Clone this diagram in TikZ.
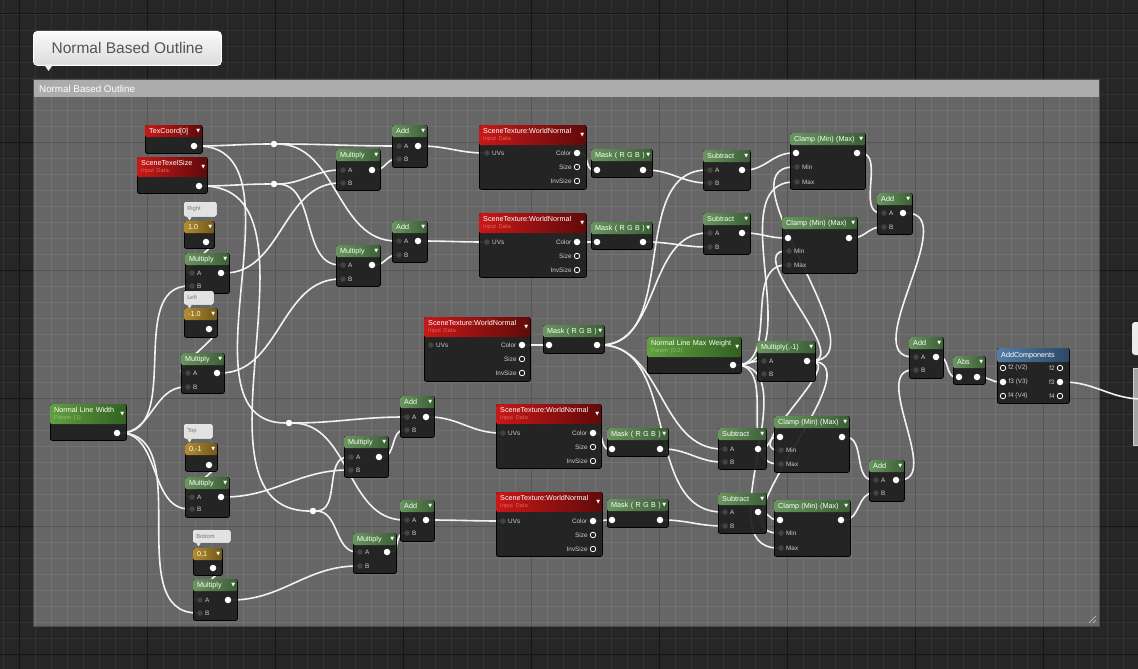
\documentclass[tikz,border=0pt]{standalone}
\usepackage{fontspec}
\setmainfont{Liberation Sans}
\newfontfamily\symfont{DejaVu Sans}
\usetikzlibrary{positioning}
\pgfdeclarelayer{back}
\pgfdeclarelayer{wires}
\pgfsetlayers{back,wires,main}

\definecolor{bgdark}{RGB}{38,38,38}
\definecolor{bgline}{RGB}{50,50,50}
\definecolor{bgmajor}{RGB}{22,22,22}
\definecolor{boxfill}{RGB}{102,102,102}
\definecolor{boxline}{RGB}{114,114,114}
\definecolor{boxmajor}{RGB}{86,86,86}
\definecolor{boxhead}{RGB}{172,172,172}
\definecolor{nodebody}{RGB}{30,32,30}
\definecolor{hgreenA}{RGB}{104,150,94}
\definecolor{hgreenB}{RGB}{60,94,54}
\definecolor{hparamA}{RGB}{98,160,64}
\definecolor{hparamB}{RGB}{50,96,34}
\definecolor{hredA}{RGB}{200,24,24}
\definecolor{hredB}{RGB}{96,10,10}
\definecolor{hgoldA}{RGB}{178,140,46}
\definecolor{hgoldB}{RGB}{112,86,26}
\definecolor{hblueA}{RGB}{84,124,164}
\definecolor{hblueB}{RGB}{44,72,104}
\definecolor{pinoff}{RGB}{66,68,66}
\definecolor{pintext}{RGB}{205,205,205}
\definecolor{subred}{RGB}{232,96,86}
\definecolor{subgreen}{RGB}{140,196,104}
\definecolor{wirecol}{RGB}{242,242,242}
\definecolor{notefill}{RGB}{226,226,226}
\definecolor{notetext}{RGB}{120,120,120}
\definecolor{titletext}{RGB}{84,84,84}

\tikzstyle{body} = [rectangle, anchor=north west, inner sep=0pt, fill=nodebody, fill opacity=0.93, draw=black, line width=0.8pt, rounded corners=2pt]
\tikzstyle{hdr} = [rectangle, anchor=north west, inner xsep=4pt, inner ysep=0pt, minimum height=12pt, text=white, font=\fontsize{7.2}{7.8}\selectfont, align=left, rounded corners=2pt]
\tikzstyle{hgreen} = [hdr, left color=hgreenA, right color=hgreenB]
\tikzstyle{hparam} = [hdr, minimum height=20pt, left color=hparamA, right color=hparamB]
\tikzstyle{hred} = [hdr, left color=hredA, right color=hredB]
\tikzstyle{hreds} = [hred, minimum height=20pt]
\tikzstyle{hgold} = [hdr, left color=hgoldA, right color=hgoldB]
\tikzstyle{hblue} = [hdr, minimum height=14pt, left color=hblueA, right color=hblueB]
\tikzstyle{drop} = [inner sep=0pt, text=white, font=\symfont\fontsize{5}{5}\selectfont]
\tikzstyle{ipin} = [circle, inner sep=0pt, minimum size=5.5pt, fill=pinoff]
\tikzstyle{opin} = [circle, inner sep=0pt, minimum size=6.5pt, fill=white]
\tikzstyle{hpin} = [circle, inner sep=0pt, minimum size=5.5pt, draw=white, line width=0.8pt, fill=nodebody]
\tikzstyle{plabel} = [inner sep=0pt, text=pintext, font=\fontsize{6.4}{6.4}\selectfont]
\tikzstyle{reroute} = [circle, inner sep=0pt, minimum size=6.5pt, fill=white]
\tikzstyle{wire} = [draw=wirecol, line width=1.6pt, out=0, in=180]
\tikzstyle{note} = [rectangle, anchor=north west, inner xsep=3pt, inner ysep=0pt, rounded corners=1.5pt, fill=notefill, draw=white, line width=0.5pt, text=notetext, font=\fontsize{5.8}{6}\selectfont, align=left]
\tikzstyle{bubble} = [rectangle, anchor=north west, rounded corners=4pt, top color=white!96!gray, bottom color=gray!28, draw=white, line width=0.8pt, text=titletext, font=\fontsize{15.5}{16}\selectfont, inner sep=0pt]

% material node: name, x1, y1, x2, y2, header style, title
\newcommand\unode[7]{%
  \pgfmathsetmacro\uw{#4-#2}\pgfmathsetmacro\uh{#5-#3}\pgfmathsetmacro\tw{#4-#2-8}%
  \node[body, minimum width=\uw pt, minimum height=\uh pt] (#1) at (#2,#3) {};
  \node[#6, text width=\tw pt] (#1-h) at (#2,#3) {#7};
  \node[drop, left=2pt of #1-h.east] {▼};}
\newcommand\subt[2]{\\[-1pt]{\color{#1}\fontsize{5.8}{6}\selectfont #2}}
\newcommand\cnote[6]{%
  \pgfmathsetmacro\nw{#4-#2-6}\pgfmathsetmacro\nh{#5-#3}%
  \node[note, text width=\nw pt, minimum height=\nh pt] (#1) at (#2,#3) {#6};
  \fill[notefill] ([xshift=3pt]#1.south west) -- ++(5,0) -- ++(-2.5,4) -- cycle;}
% pins
\newcommand\inp[4]{\node[ipin] (#1) at (#2,#3) {}; \node[plabel, right=2pt of #1] {#4};}
\newcommand\outp[3]{\node[opin] (#1) at (#2,#3) {};}
\newcommand\hol[4]{\node[hpin] (#1) at (#2,#3) {}; \node[plabel, left=2pt of #1] {#4};}
\newcommand\holr[4]{\node[hpin] (#1) at (#2,#3) {}; \node[plabel, right=2pt of #1] {#4};}
\newcommand\sttex[5]{% SceneTexture pins: name, uv x, color x, y
  \inp{#1-uv}{#2}{#4}{UVs}
  \outp{#1-c}{#3}{#4} \node[plabel, left=2pt of #1-c] {Color};
  \hol{#1-s}{#3}{#4+14}{Size}
  \hol{#1-v}{#3}{#4+28}{InvSize}}
\newcommand\abpins[5]{% name, in x, out x, A y, B y
  \inp{#1-a}{#2}{#4}{A} \inp{#1-b}{#2}{#5}{B} \outp{#1-o}{#3}{#4}}
\newcommand\clpins[6]{% name, in x, out x, in y, min y, max y
  \outp{#1-i}{#2}{#4} \outp{#1-o}{#3}{#4}
  \inp{#1-mn}{#2+1}{#5}{Min} \inp{#1-mx}{#2+1}{#6}{Max}}

\begin{document}
\begin{tikzpicture}[x=1pt, y=-1pt]
\useasboundingbox (0,0) rectangle (1138,669);

% Background and comment box
\begin{pgfonlayer}{back}
\fill[bgdark] (0,0) rectangle (1138,669);
\foreach \x in {3,19,...,1138} \draw[bgline, line width=0.5pt] (\x,0) -- (\x,669);
\foreach \y in {14,30,...,669} \draw[bgline, line width=0.5pt] (0,\y) -- (1138,\y);
\foreach \x in {19,147,...,1138} \draw[bgmajor, line width=1pt] (\x,0) -- (\x,669);
\foreach \y in {14,142,...,669} \draw[bgmajor, line width=1pt] (0,\y) -- (1138,\y);
\fill[boxfill] (33,97) rectangle (1099,626);
\begin{scope}
\clip (33,97) rectangle (1099,626);
\foreach \x in {35,51,...,1099} \draw[boxline, line width=0.5pt] (\x,97) -- (\x,626);
\foreach \y in {110,126,...,626} \draw[boxline, line width=0.5pt] (33,\y) -- (1099,\y);
\foreach \x in {147,275,...,1099} \draw[boxmajor, line width=1pt] (\x,97) -- (\x,626);
\foreach \y in {142,270,...,626} \draw[boxmajor, line width=1pt] (33,\y) -- (1099,\y);
\end{scope}
\fill[boxhead] (33,79) rectangle (1099,97);
\draw[black!70, line width=0.6pt] (33,79) rectangle (1099,626);
\draw[white!80!black, line width=0.6pt] (1089,623) -- (1096,616) (1093,623) -- (1096,620);
\fill[white!92!black, rounded corners=3pt] (1132,322) rectangle (1150,355);
\fill[gray!70, draw=gray!40] (1133,368) rectangle (1150,445);
\end{pgfonlayer}

\node[anchor=west, inner sep=0pt, text=white, font=\fontsize{9.8}{10}\selectfont] (boxtitle) at (39,88.5) {Normal Based Outline};
\node[bubble, minimum width=188pt, minimum height=34pt] (title) at (33,31) {Normal Based Outline};
\fill[white!85!gray] (44,64.5) -- (53,64.5) -- (48.5,71) -- cycle;

% Nodes
\unode{tc}{145}{125}{202}{153}{hred}{TexCoord[0]}
\outp{tc-o}{194}{146}
\unode{ts}{137}{157}{207}{193}{hreds}{SceneTexelSize\subt{subred}{Input Data}}
\outp{ts-o}{199}{186}

\cnote{nright}{184}{202}{216}{216}{Right}
\unode{c1}{184}{221}{214}{248}{hgold}{1.0}
\outp{c1-o}{206}{242}
\unode{mr}{185}{253}{229}{293}{hgreen}{Multiply}
\abpins{mr}{192}{221}{273}{286}

\cnote{nleft}{184}{291}{213}{304}{Left}
\unode{c2}{184}{308}{217}{337}{hgold}{-1.0}
\outp{c2-o}{209}{329}
\unode{mlf}{181}{353}{224}{393}{hgreen}{Multiply}
\abpins{mlf}{188}{217}{373}{387}

\unode{nlw}{50}{404}{126}{440}{hparam}{Normal Line Width\subt{subgreen}{Param (1)}}
\outp{nlw-o}{117}{433}

\cnote{ntop}{184}{424}{212}{438}{Top}
\unode{c3}{185}{443}{217}{471}{hgold}{0,-1}
\outp{c3-o}{209}{465}
\unode{mtp}{185}{477}{229}{517}{hgreen}{Multiply}
\abpins{mtp}{192}{221}{497}{509}

\cnote{nbottom}{193}{530}{230}{542}{Bottom}
\unode{c4}{193}{548}{222}{575}{hgold}{0,1}
\outp{c4-o}{213}{568}
\unode{mbt}{193}{579}{237}{620}{hgreen}{Multiply}
\abpins{mbt}{200}{228}{600}{613}

\node[reroute] (r1) at (274,144) {};
\node[reroute] (r2) at (274,184) {};
\node[reroute] (r3) at (289,423) {};
\node[reroute] (r4) at (313,511) {};

\unode{mt1}{336}{149}{380}{190}{hgreen}{Multiply}
\abpins{mt1}{343}{372}{170}{183}
\unode{mt2}{336}{245}{380}{286}{hgreen}{Multiply}
\abpins{mt2}{343}{372}{265}{279}
\unode{ad1}{392}{125}{427}{167}{hgreen}{Add}
\abpins{ad1}{399}{418}{146}{159}
\unode{ad2}{392}{221}{427}{262}{hgreen}{Add}
\abpins{ad2}{399}{418}{241}{255}
\unode{mm}{344}{436}{388}{477}{hgreen}{Multiply}
\abpins{mm}{351}{379}{457}{470}
\unode{ad3}{400}{396}{434}{437}{hgreen}{Add}
\abpins{ad3}{407}{426}{417}{430}
\unode{ml}{353}{533}{396}{573}{hgreen}{Multiply}
\abpins{ml}{360}{387}{552}{566}
\unode{ad4}{400}{500}{434}{541}{hgreen}{Add}
\abpins{ad4}{407}{426}{520}{533}

\unode{st1}{479}{125}{586}{189}{hreds}{SceneTexture:WorldNormal\subt{subred}{Input Data}}
\sttex{st1}{487}{577}{153}{}
\unode{st2}{479}{213}{586}{277}{hreds}{SceneTexture:WorldNormal\subt{subred}{Input Data}}
\sttex{st2}{487}{577}{242}{}
\unode{st3}{424}{317}{530}{381}{hreds}{SceneTexture:WorldNormal\subt{subred}{Input Data}}
\sttex{st3}{431}{522}{345}{}
\unode{st4}{496}{404}{601}{468}{hreds}{SceneTexture:WorldNormal\subt{subred}{Input Data}}
\sttex{st4}{503}{593}{433}{}
\unode{st5}{496}{492}{602}{556}{hreds}{SceneTexture:WorldNormal\subt{subred}{Input Data}}
\sttex{st5}{503}{593}{521}{}

\unode{mk1}{591}{149}{652}{177}{hgreen}{Mask ( R G B )}
\outp{mk1-i}{597}{170} \outp{mk1-o}{643}{170}
\unode{mk2}{591}{222}{652}{249}{hgreen}{Mask ( R G B )}
\outp{mk2-i}{597}{242} \outp{mk2-o}{643}{242}
\unode{mk3}{543}{325}{604}{353}{hgreen}{Mask ( R G B )}
\outp{mk3-i}{549}{345} \outp{mk3-o}{597}{345}
\unode{mk4}{607}{428}{668}{456}{hgreen}{Mask ( R G B )}
\outp{mk4-i}{612}{449} \outp{mk4-o}{660}{449}
\unode{mk5}{607}{499}{668}{527}{hgreen}{Mask ( R G B )}
\outp{mk5-i}{612}{520} \outp{mk5-o}{660}{520}

\unode{sb1}{703}{150}{750}{190}{hgreen}{Subtract}
\abpins{sb1}{710}{742}{170}{183}
\unode{sb2}{703}{213}{750}{254}{hgreen}{Subtract}
\abpins{sb2}{710}{742}{233}{247}
\unode{sb3}{718}{428}{766}{469}{hgreen}{Subtract}
\abpins{sb3}{725}{758}{449}{462}
\unode{sb4}{718}{493}{766}{533}{hgreen}{Subtract}
\abpins{sb4}{725}{758}{512}{526}

\unode{nlmw}{647}{337}{741}{373}{hparam}{Normal Line Max Weight\subt{subgreen}{Param (0.2)}}
\outp{nlmw-o}{733}{365}
\unode{neg}{757}{341}{815}{381}{hgreen}{Multiply(,-1)}
\abpins{neg}{764}{807}{361}{374}

\unode{cl1}{790}{133}{865}{189}{hgreen}{Clamp (Min) (Max)}
\clpins{cl1}{796}{857}{153}{167}{182}
\unode{cl2}{782}{217}{857}{273}{hgreen}{Clamp (Min) (Max)}
\clpins{cl2}{788}{849}{238}{251}{265}
\unode{cl3}{774}{416}{849}{472}{hgreen}{Clamp (Min) (Max)}
\clpins{cl3}{780}{842}{437}{450}{464}
\unode{cl4}{774}{500}{850}{556}{hgreen}{Clamp (Min) (Max)}
\clpins{cl4}{780}{841}{520}{533}{548}

\unode{ar1}{877}{193}{912}{234}{hgreen}{Add}
\abpins{ar1}{884}{903}{213}{227}
\unode{ar2}{869}{460}{904}{501}{hgreen}{Add}
\abpins{ar2}{876}{896}{480}{493}
\unode{af}{909}{337}{943}{378}{hgreen}{Add}
\abpins{af}{916}{936}{357}{370}
\unode{abs}{953}{356}{985}{384}{hgreen}{Abs}
\outp{abs-i}{959}{377} \outp{abs-o}{977}{377}

\node[body, minimum width=72pt, minimum height=55pt] (acp) at (997,348) {};
\node[hblue, text width=64pt] (acp-h) at (997,348) {AddComponents};
\holr{acp-f2}{1003}{368}{f2 (V2)}
\outp{acp-f3}{1003}{382} \node[plabel, right=2pt of acp-f3] {f3 (V3)};
\holr{acp-f4}{1003}{396}{f4 (V4)}
\hol{acp-f2o}{1060}{368}{f2}
\outp{acp-f3o}{1060}{382} \node[plabel, left=2pt of acp-f3o] {f3};
\hol{acp-f4o}{1060}{396}{f4}
\coordinate (exit) at (1142,399);

% Wires
\begin{pgfonlayer}{wires}
\draw[wire] (tc-o) to (r1);
\draw[wire] (tc-o) to (r3);
\draw[wire] (r1) to (ad1-a);
\draw[wire] (r1) to (ad2-a);
\draw[wire] (ts-o) to (r2);
\draw[wire] (ts-o) to (r4);
\draw[wire] (r2) to (mt1-a);
\draw[wire] (r2) to (mt2-a);
\draw[wire] (r3) to (ad3-a);
\draw[wire] (r3) to (ad4-a);
\draw[wire] (r4) to (mm-a);
\draw[wire] (r4) to (ml-a);

\draw[wire] (c1-o) to (mr-a);
\draw[wire] (c2-o) to (mlf-a);
\draw[wire] (c3-o) to (mtp-a);
\draw[wire] (c4-o) to (mbt-a);
\foreach \m in {mr,mlf,mtp,mbt} \draw[wire] (nlw-o) to (\m-b);

\draw[wire] (mr-o) to (mt1-b);
\draw[wire] (mlf-o) to (mt2-b);
\draw[wire] (mtp-o) to (mm-b);
\draw[wire] (mbt-o) to (ml-b);
\draw[wire] (mt1-o) to (ad1-b);
\draw[wire] (mt2-o) to (ad2-b);
\draw[wire] (mm-o) to (ad3-b);
\draw[wire] (ml-o) to (ad4-b);

\draw[wire] (ad1-o) to (st1-uv);
\draw[wire] (ad2-o) to (st2-uv);
\draw[wire] (ad3-o) to (st4-uv);
\draw[wire] (ad4-o) to (st5-uv);
\foreach \i in {1,...,5} \draw[wire] (st\i-c) to (mk\i-i);

\foreach \i in {1,...,4} \draw[wire] (mk3-o) to (sb\i-a);
\draw[wire] (mk1-o) to (sb1-b);
\draw[wire] (mk2-o) to (sb2-b);
\draw[wire] (mk4-o) to (sb3-b);
\draw[wire] (mk5-o) to (sb4-b);
\foreach \i in {1,...,4} \draw[wire] (sb\i-o) to (cl\i-i);

\draw[wire] (nlmw-o) to (neg-a);
\foreach \i in {1,...,4} {
  \draw[wire] (nlmw-o) to (cl\i-mx);
  \draw[wire] (neg-o) to (cl\i-mn);
}
\draw[wire] (cl1-o) to (ar1-a);
\draw[wire] (cl2-o) to (ar1-b);
\draw[wire] (cl3-o) to (ar2-a);
\draw[wire] (cl4-o) to (ar2-b);
\draw[wire] (ar1-o) to (af-a);
\draw[wire] (ar2-o) to (af-b);
\draw[wire] (af-o) to (abs-i);
\draw[wire] (abs-o) to (acp-f3);
\draw[wire] (acp-f3o) to (exit);
\end{pgfonlayer}

\end{tikzpicture}
\end{document}
